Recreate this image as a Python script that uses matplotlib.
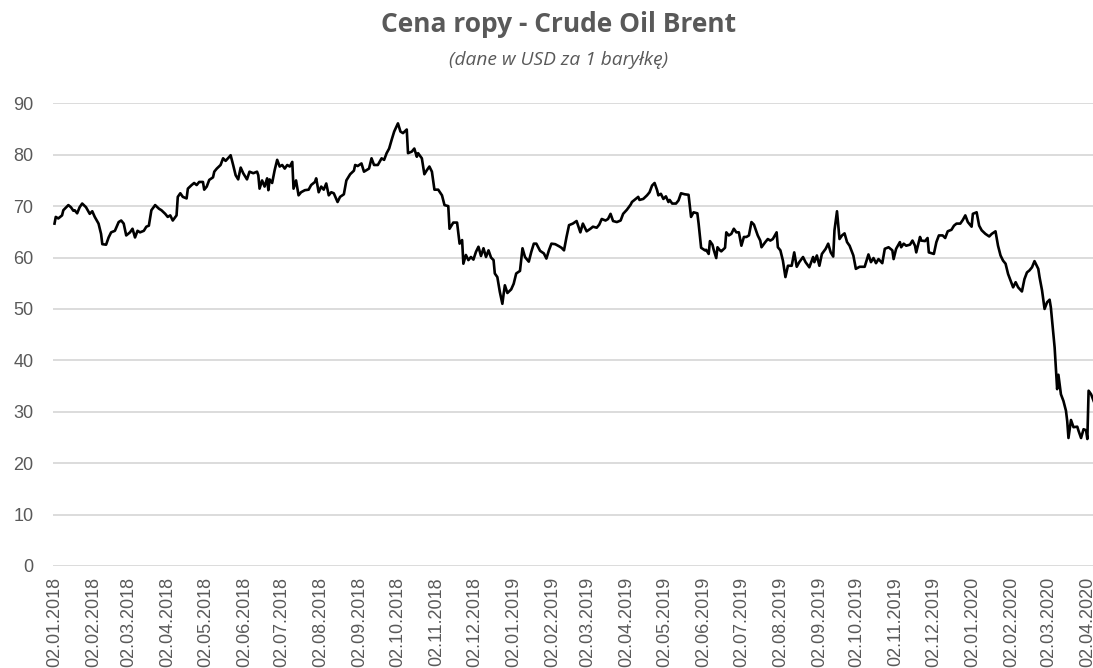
import numpy as np
import pandas as pd
import matplotlib
matplotlib.use('Agg')
from matplotlib import pyplot as plt
import matplotlib.dates as mdates

# days counted from 02.01.2018
days = [
    0, 1, 3, 6, 7, 11, 13, 15, 16, 18, 20, 22, 25, 28, 30, 32, 35, 37, 38, 41, 43, 45, 48, 51, 53, 55, 57,
    60, 62, 64, 66, 68, 71, 73, 75, 77, 80, 83, 85, 88, 90, 92, 94, 97, 98, 100, 102, 105, 106, 109, 111,
    113, 115, 118, 119, 121, 123, 126, 127, 129, 132, 134, 136, 139,
    140, 142, 144, 146, 148, 150, 153, 155, 158, 161, 162, 163, 165, 167, 169, 170, 171, 173, 175, 177,
    179, 181, 183, 185, 187, 189, 190, 192, 194, 196, 199, 202, 204, 207, 208, 210, 212, 214, 216, 218,
    220, 222, 225, 227, 230, 232, 235, 238, 239, 241, 244, 246, 250, 252, 254, 257, 260, 262, 264, 266,
    268, 270, 273, 275, 277,
    280, 281, 284, 286, 288, 289, 292, 294, 296, 298, 300, 302, 305, 308, 310, 313, 314, 317, 320, 322,
    324, 325, 327, 329, 331, 333, 335, 337, 339, 341, 343, 345, 347, 349, 350, 352, 354, 356, 357, 358,
    360, 363, 365, 367, 370, 372, 374, 377, 379, 381, 383, 386, 389, 391, 393, 395, 398, 401, 403, 405,
    407, 409, 412, 415,
    418, 420, 423, 426, 428, 431, 433, 435, 438, 440, 442, 444, 447, 450, 452, 455, 458, 459, 461, 464,
    465, 468, 471, 473, 475, 477, 479, 480, 482, 484, 486, 488, 489, 491, 494, 496, 498, 501, 504, 506,
    508, 511, 512, 514, 517, 518, 520, 521, 523, 524, 526, 527, 529, 530, 533, 534, 536, 538, 540, 542,
    544, 546, 548, 550, 552, 554, 556,
    559, 561, 562, 565, 567, 569, 571, 574, 575, 577, 578, 579, 581, 583, 586, 588, 590, 592, 595, 597,
    600, 603, 604, 606, 608, 610, 613, 615, 617, 619, 620, 622, 624, 626, 628, 630, 632, 635, 637, 640,
    644, 647, 649, 651, 653, 655, 658, 660, 663, 666, 667, 669, 672, 673, 675, 677, 680, 682, 684, 685,
    688, 689, 692, 694, 695,
    699, 701, 703, 706, 708, 710, 713, 715, 717, 720, 722, 724, 726, 729, 730, 733, 735, 737, 740, 743,
    745, 748, 750, 752, 754, 756, 758, 760, 762, 764, 766, 769, 771, 773, 775, 777, 779, 782, 783, 785,
    787, 789, 791, 792, 793, 795, 796, 797, 798, 800, 802, 804, 805, 806, 808, 810, 813, 814, 816, 818,
    820, 821, 822, 824, 826,
]
price = [
    66.6, 67.9, 67.6, 68.2, 69.2, 70.2, 69.8, 69.1, 69.2, 68.6, 69.8, 70.5, 69.8, 68.5, 69.0, 67.9, 66.6,
    64.6, 62.6, 62.5, 63.9, 64.9, 65.2, 66.9, 67.2, 66.6, 64.3, 64.9, 65.6, 63.9, 65.2, 64.9, 65.2, 66.0,
    66.2, 69.2, 70.2, 69.5, 69.2, 68.5, 67.9, 68.2, 67.2, 68.2, 71.8, 72.5, 71.8, 71.5, 73.4, 74.1, 74.5,
    74.1, 74.7, 74.7, 73.2, 73.8, 75.1, 75.6, 76.7, 77.3, 78.0, 79.3, 78.8, 79.6,
    79.9, 78.0, 76.0, 75.2, 77.5, 76.4, 75.2, 76.7, 76.4, 76.7, 76.0, 73.4, 75.0, 73.8, 75.4, 73.1, 75.2,
    74.5, 77.0, 79.0, 77.7, 78.0, 77.3, 78.0, 77.7, 78.6, 73.4, 75.0, 72.1, 72.7, 73.1, 73.2, 74.1, 74.7,
    75.4, 72.7, 73.8, 73.2, 74.4, 72.1, 72.7, 72.5, 70.8, 71.8, 72.3, 75.0, 76.2, 76.9, 78.0, 77.8, 78.3,
    76.7, 77.3, 79.3, 78.0, 78.0, 79.3, 79.0, 80.3, 81.2, 82.9, 84.5, 86.1, 84.5, 84.2,
    84.9, 80.3, 80.6, 81.2, 79.6, 80.3, 79.3, 76.2, 77.0, 77.7, 76.7, 73.2, 73.2, 72.1, 70.2, 70.0, 65.6,
    66.8, 66.8, 62.7, 63.4, 58.8, 60.5, 59.5, 60.1, 59.6, 61.1, 62.1, 60.3, 61.8, 60.1, 61.4, 60.0, 59.5,
    56.9, 56.2, 53.3, 51.0, 52.9, 54.6, 53.1, 53.8, 54.9, 56.9, 57.4, 61.8, 60.1, 59.2, 61.1, 62.7, 62.7,
    61.3, 60.8, 59.8, 61.4, 62.7, 62.6, 62.2, 61.9, 61.4, 64.0, 66.3, 66.6, 67.1,
    64.9, 66.6, 65.1, 65.6, 66.0, 65.8, 66.4, 67.5, 67.2, 67.5, 68.5, 67.1, 66.9, 67.2, 68.5, 69.3, 70.3,
    70.8, 71.2, 71.8, 71.2, 71.4, 72.1, 72.7, 74.0, 74.5, 73.1, 72.1, 72.4, 71.4, 71.9, 70.8, 71.2, 70.5,
    70.5, 71.1, 72.5, 72.3, 72.2, 67.9, 68.8, 68.6, 66.6, 61.9, 61.4, 61.5, 60.7, 63.2, 62.5, 61.5, 59.9,
    62.0, 61.4, 61.2, 61.9, 64.9, 64.3, 64.6, 65.6, 64.9, 64.9, 62.3, 64.0, 64.0, 64.3, 66.9, 66.4,
    64.3, 63.3, 62.0, 63.0, 63.6, 63.3, 63.6, 64.9, 62.0, 61.4, 60.4, 59.4, 56.2, 58.4, 58.4, 61.0, 58.2,
    59.1, 60.1, 59.1, 58.1, 60.1, 59.1, 60.4, 58.4, 60.7, 61.7, 62.7, 61.0, 60.2, 65.3, 69.0, 63.6, 64.3,
    64.7, 63.0, 62.3, 60.4, 57.8, 58.2, 58.2, 60.6, 59.1, 59.9, 58.9, 59.7, 58.9, 61.7, 62.0, 61.4, 59.7,
    61.7, 63.0, 62.0, 62.7, 62.3, 62.5, 63.3, 62.3, 61.0, 64.0, 63.3, 63.2, 63.8, 61.0,
    60.7, 63.0, 64.3, 64.3, 63.8, 65.1, 65.4, 66.2, 66.6, 66.6, 67.3, 68.2, 66.9, 66.0, 68.5, 68.8, 66.2,
    65.3, 64.6, 64.1, 64.6, 65.1, 62.3, 60.4, 59.4, 58.8, 56.8, 55.5, 54.2, 55.2, 54.2, 53.4, 55.8, 57.1,
    57.5, 58.1, 59.3, 57.8, 56.2, 53.6, 50.0, 51.3, 51.8, 50.3, 47.7, 42.5, 38.6, 34.4, 37.2, 33.4, 32.1,
    30.2, 28.2, 24.9, 28.4, 27.0, 27.1, 26.3, 24.9, 26.6, 26.4, 24.7, 34.1, 33.4, 32.1,
]
start = pd.Timestamp('2018-01-02')
tick_dates = pd.date_range('2018-01-01', '2020-04-01', freq='MS') + pd.Timedelta(days=1)
y_ticks = list(range(0, 91, 10))

dates = start + pd.to_timedelta(days, unit='D')

fig = plt.figure(figsize=(10.93, 6.68), dpi=100)
ax = fig.add_axes([53 / 1093, 102 / 668, 1040 / 1093, 462.7 / 668])

ax.plot(dates, price, color='black', linewidth=1.9, solid_joinstyle='round')

ax.set_ylim(0, 90)
ax.set_yticks(y_ticks)
ax.set_xlim(start - pd.Timedelta(days=1.2), start + pd.Timedelta(days=825.5))
ax.set_xticks(tick_dates)
ax.xaxis.set_major_formatter(mdates.DateFormatter('%d.%m.%Y'))

ax.grid(axis='y', color='#d9d9d9', linewidth=1.3)
ax.set_axisbelow(True)
for s in ax.spines.values():
    s.set_visible(False)
ax.tick_params(axis='y', length=0, pad=14, labelsize=13, labelcolor='#595959')
ax.tick_params(axis='x', length=0, pad=8, labelsize=13, labelcolor='#595959', labelrotation=90)
for lab in ax.get_xticklabels() + ax.get_yticklabels():
    lab.set_fontfamily('Liberation Sans')

fig.text(0.511, 1 - 32 / 668, 'Cena ropy - Crude Oil Brent', ha='center', va='baseline',
         fontsize=19, fontweight='bold', color='#595959', family='Open Sans')
fig.text(0.511, 1 - 65 / 668, '(dane w USD za 1 baryłkę)', ha='center', va='baseline',
         fontsize=13.8, fontstyle='italic', color='#595959', family='Open Sans')

fig.savefig('out.png', dpi=100)
